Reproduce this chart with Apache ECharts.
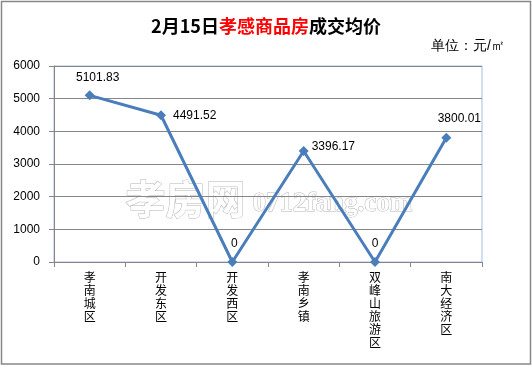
<!DOCTYPE html>
<html>
<head>
<meta charset="utf-8">
<script src="https://cdn.jsdelivr.net/npm/echarts@6/dist/echarts.min.js"></script>
<style>html,body{margin:0;padding:0;background:#fff;}#c{width:532px;height:366px;}</style>
</head>
<body>
<div id="c"></div>
<script>
var categories = ['孝南城区', '开发东区', '开发西区', '孝南乡镇', '双峰山旅游区', '南大经济区'];
var prices = [5101.83, 4491.52, 0, 3396.17, 0, 3800.01];
var yTicks = [0, 1000, 2000, 3000, 4000, 5000, 6000];

var labelStyles = [
  {position: 'top', offset: [8, -2]},
  {position: 'right', offset: [2, 0]},
  {position: 'top', offset: [2, -2]},
  {position: 'right', offset: [-2, -4]},
  {position: 'top', offset: [0, -2]},
  {position: 'top', offset: [13, -3]}
];

var chart = echarts.init(document.getElementById('c'), null, {renderer: 'canvas'});
var lineColor = '#4a7ebb';
var option = {
  animation: false,
  backgroundColor: '#fff',
  title: {
    text: '{b|2月15日}{r|孝感商品房}{b|成交均价}',
    left: 'center',
    top: 12,
    textStyle: {
      rich: {
        b: {fontSize: 18, fontWeight: 'bold', color: '#000', fontFamily: 'Noto Sans CJK SC'},
        r: {fontSize: 18, fontWeight: 'bold', color: '#ff0000', fontFamily: 'Noto Sans CJK SC'}
      }
    }
  },
  grid: {left: 54, right: 50, top: 66, bottom: 104, show: true, borderColor: '#a6bde0', borderWidth: 1, backgroundColor: 'transparent'},
  xAxis: {
    type: 'category',
    data: categories,
    boundaryGap: true,
    axisLine: {lineStyle: {color: '#868686', width: 1}},
    axisTick: {show: true, interval: 0, length: 5, lineStyle: {color: '#868686'}},
    axisLabel: {
      interval: 0, margin: 9, color: '#000', fontSize: 12, lineHeight: 13,
      fontFamily: 'Noto Sans CJK SC',
      formatter: function (v) { return v.split('').join('\n'); }
    }
  },
  yAxis: {
    type: 'value',
    min: yTicks[0],
    max: yTicks[yTicks.length - 1],
    interval: 1000,
    axisLine: {show: true, lineStyle: {color: '#868686', width: 1}},
    axisTick: {show: true, inside: false, length: 5, lineStyle: {color: '#868686'}},
    axisLabel: {margin: 14, color: '#000', fontSize: 12, fontFamily: 'Liberation Sans',
      formatter: function (v) { return String(v); }},
    splitLine: {lineStyle: {color: '#868686', width: 1}}
  },
  graphic: [
    {type: 'rect', shape: {x: 1.5, y: 1.5, width: 529, height: 362.5}, style: {fill: 'none', stroke: '#888', lineWidth: 1.5}, z: 100, silent: true},
    {type: 'text', right: 27, top: 39, style: {text: '单位：元/㎡', fontSize: 14, fill: '#000', font: '14px "Noto Sans CJK SC"'}, z: 100},
    {type: 'text', left: 125, top: 178, style: {text: '孝房网', font: 'bold 40px "Noto Sans CJK SC"', fill: '#fff', stroke: '#b4b4b4', lineWidth: 1}, z: 0, silent: true},
    {type: 'text', left: 252, top: 190, style: {text: '0712fang.com', font: 'bold 27px "Liberation Serif"', fill: '#fff', stroke: '#b4b4b4', lineWidth: 1}, z: 0, silent: true}
  ],
  series: [{
    type: 'line',
    data: prices.map(function (v, i) {
      return {value: v, label: labelStyles[i]};
    }),
    z: 10,
    lineStyle: {color: lineColor, width: 3},
    itemStyle: {color: lineColor},
    symbol: 'diamond',
    symbolSize: 10,
    label: {show: true, color: '#000', fontSize: 12, fontFamily: 'Liberation Sans',
      formatter: function (p) { return p.value === 0 ? '0' : p.value.toFixed(2); }}
  }]
};
chart.setOption(option);
</script>
</body>
</html>
